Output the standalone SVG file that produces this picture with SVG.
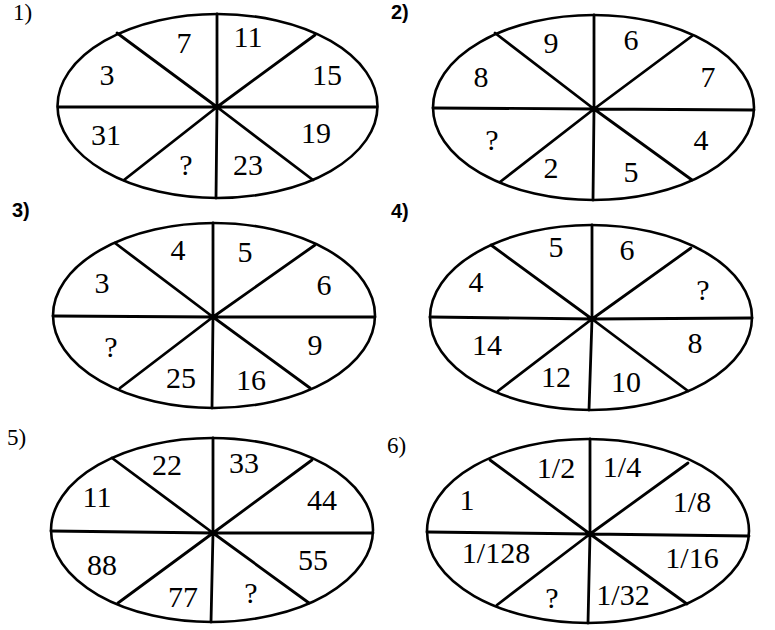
<svg xmlns="http://www.w3.org/2000/svg" width="775" height="630" viewBox="0 0 775 630">
<style>
.bg{fill:#fff}
.ov{fill:none;stroke:#000;stroke-width:2.6}
.sp{fill:none;stroke:#000;stroke-width:2.8;stroke-linecap:round}
.n{font-family:"Liberation Serif","Times New Roman",serif;font-size:30px;fill:#000;text-anchor:middle}
.ls{font-family:"Liberation Serif","Times New Roman",serif;font-size:23px;fill:#000}
.lb{font-family:"Liberation Sans",Arial,sans-serif;font-size:20px;font-weight:bold;fill:#000}
</style>
<rect class="bg" x="0" y="0" width="775" height="630"/>

<g id="fig1">
<text class="ls" x="13" y="20">1)</text>
<ellipse class="ov" cx="217.5" cy="106" rx="160" ry="92"/>
<path class="sp" d="M217 107L217 14M217 107L216 198M217 107L58 107M217 107L377 107M217 107L117 33M217 107L315 35M217 107L124 180M217 107L313 180"/>
<text class="n" x="184" y="53">7</text>
<text class="n" x="248" y="47">11</text>
<text class="n" x="327" y="85">15</text>
<text class="n" x="107" y="85">3</text>
<text class="n" x="106" y="145">31</text>
<text class="n" x="316" y="143">19</text>
<text class="n" x="186" y="175">?</text>
<text class="n" x="248" y="175">23</text>
</g>

<g id="fig2">
<text class="lb" x="391" y="19">2)</text>
<ellipse class="ov" cx="593.5" cy="107.5" rx="160.5" ry="92.5"/>
<path class="sp" d="M594 109L594 15M594 109L593 200M594 109L433 108M594 109L754 110M594 109L495 33M594 109L692 36M594 109L500 182M594 109L692 180"/>
<text class="n" x="551" y="53">9</text>
<text class="n" x="631" y="50">6</text>
<text class="n" x="481" y="87">8</text>
<text class="n" x="708" y="87">7</text>
<text class="n" x="492" y="150">?</text>
<text class="n" x="701" y="150">4</text>
<text class="n" x="551" y="178">2</text>
<text class="n" x="631" y="182">5</text>
</g>

<g id="fig3">
<text class="lb" x="12" y="217">3)</text>
<ellipse class="ov" cx="214" cy="315.5" rx="161" ry="92.5"/>
<path class="sp" d="M213 317L213 223M213 317L212 408M213 317L53 316M213 317L375 317M213 317L115 243M213 317L315 245M213 317L120 388M213 317L310 388"/>
<text class="n" x="178" y="260">4</text>
<text class="n" x="245" y="262">5</text>
<text class="n" x="102" y="293">3</text>
<text class="n" x="324" y="295">6</text>
<text class="n" x="111" y="357">?</text>
<text class="n" x="315" y="355">9</text>
<text class="n" x="181" y="388">25</text>
<text class="n" x="251" y="390">16</text>
</g>

<g id="fig4">
<text class="lb" x="391" y="218">4)</text>
<ellipse class="ov" cx="591" cy="317.5" rx="161" ry="92.5"/>
<path class="sp" d="M592 319L592 225M592 319L589 410M592 319L430 317M592 319L752 318M592 319L491 245M592 319L691 248M592 319L498 391M592 319L688 391"/>
<text class="n" x="556" y="257">5</text>
<text class="n" x="627" y="260">6</text>
<text class="n" x="476" y="292">4</text>
<text class="n" x="703" y="300">?</text>
<text class="n" x="487" y="355">14</text>
<text class="n" x="695" y="353">8</text>
<text class="n" x="556" y="387">12</text>
<text class="n" x="626" y="392">10</text>
</g>

<g id="fig5">
<text class="ls" x="7" y="445">5)</text>
<ellipse class="ov" cx="212" cy="530" rx="161" ry="92"/>
<path class="sp" d="M213 533L213 438M213 533L211 622M213 533L51 531M213 533L373 533M213 533L112 458M213 533L312 460M213 533L118 603M213 533L309 603"/>
<text class="n" x="167" y="475">22</text>
<text class="n" x="244" y="473">33</text>
<text class="n" x="97" y="507">11</text>
<text class="n" x="322" y="510">44</text>
<text class="n" x="102" y="575">88</text>
<text class="n" x="313" y="570">55</text>
<text class="n" x="183" y="607">77</text>
<text class="n" x="251" y="603">?</text>
</g>

<g id="fig6">
<text class="ls" x="387" y="453">6)</text>
<ellipse class="ov" cx="588" cy="531" rx="161" ry="92"/>
<path class="sp" d="M590 534L590 439M590 534L588 623M590 534L427 532M590 534L749 536M590 534L490 460M590 534L688 463M590 534L497 605M590 534L687 604"/>
<text class="n" x="556" y="478">1/2</text>
<text class="n" x="622" y="477">1/4</text>
<text class="n" x="467" y="510">1</text>
<text class="n" x="692" y="512">1/8</text>
<text class="n" x="496" y="563">1/128</text>
<text class="n" x="692" y="568">1/16</text>
<text class="n" x="552" y="608">?</text>
<text class="n" x="623" y="605">1/32</text>
</g>
</svg>
